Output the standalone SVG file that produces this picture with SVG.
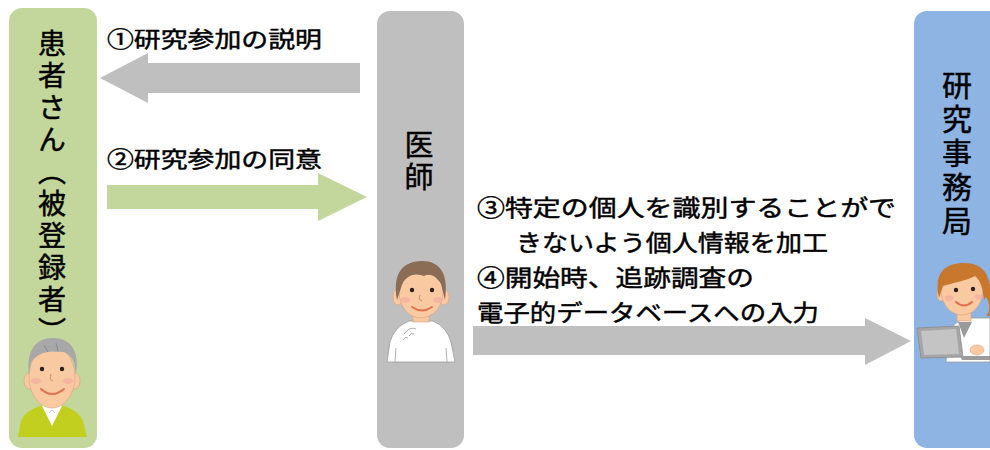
<svg xmlns="http://www.w3.org/2000/svg" width="990" height="450" viewBox="0 0 990 450">
  <defs>
    <style>
      .jp { font-family: "Noto Sans CJK JP", "Noto Sans", sans-serif; fill: #000; font-weight: 400; stroke: #000; stroke-width: 0.45px; }
      .lbl { font-size: 22px; }
      .body { font-size: 23px; }
      .vt { writing-mode: vertical-rl; }
      .skin { fill: #F9C9A2; stroke: #D9A27E; stroke-width: 0.6; }
      .eye { fill: #2A2020; }
      .cheek { fill: #F4A3A3; opacity: 0.55; }
      .mouth { fill: none; stroke: #E0704E; stroke-width: 2; stroke-linecap: round; }
    </style>
  </defs>

  <rect width="990" height="450" fill="#FFFFFF"/>

  <!-- patient column -->
  <g id="patient">
    <rect x="9" y="8" width="88" height="440" rx="13" fill="#C3D69B"/>
    <text class="jp vt" x="52" y="29" font-size="28" letter-spacing="4">患者さん（被登録者）</text>
    <!-- elderly man -->
    <g id="patient-figure">
      <path d="M18,437 L21,421 Q26,410 40,406 L64,406 Q78,410 83,421 L87,437 Z" fill="#C3CF1E"/>
      <rect x="45" y="396" width="14" height="14" class="skin"/>
      <path d="M42,406 L62,406 L52,426 Z" fill="#FFFFFF"/>
      <path d="M49,413 L52,410 L55,413" fill="none" stroke="#B0B8C8" stroke-width="0.8"/>
      <ellipse cx="29" cy="381" rx="5" ry="8" class="skin"/>
      <ellipse cx="75" cy="381" rx="5" ry="8" class="skin"/>
      <ellipse cx="52" cy="377" rx="23" ry="31" class="skin"/>
      <path d="M29,374 C26,350 36,338 53,338 C70,338 80,350 76,374 L74,362 C70,354 64,351 58,352 C48,350 38,353 31,362 Z" fill="#A8A8A8"/>
      <path d="M44,345 L48,352 M56,343 L58,351" stroke="#8A8A8A" stroke-width="1" fill="none"/>
      <circle cx="42" cy="369" r="2.2" class="eye"/>
      <circle cx="62" cy="369" r="2.2" class="eye"/>
      <ellipse cx="36" cy="381" rx="5" ry="3" class="cheek"/>
      <ellipse cx="68" cy="381" rx="5" ry="3" class="cheek"/>
      <path d="M51,374 Q49,380 53,381" fill="none" stroke="#D08C6A" stroke-width="1"/>
      <path d="M41,389 Q52,399 64,389" class="mouth"/>
    </g>
  </g>

  <!-- doctor column -->
  <g id="doctor">
    <rect x="377" y="11" width="87" height="437" rx="13" fill="#BFBFBF"/>
    <text class="jp vt" x="419" y="130" font-size="29" letter-spacing="3">医師</text>
    <g id="doctor-figure">
      <path d="M387,362 L390,342 Q394,327 409,321 L433,321 Q447,327 451,342 L455,362 Z" fill="#FFFFFF" stroke="#9A9A9A" stroke-width="0.8"/>
      <path d="M395,362 L396,348 M447,362 L446,348" stroke="#9A9A9A" stroke-width="0.8"/>
      <path d="M404,334 Q410,326 416,329" fill="none" stroke="#9A9A9A" stroke-width="0.8"/>
      <path d="M403,340 Q405,336 408,338 M409,336 Q411,332 414,334" fill="none" stroke="#9A9A9A" stroke-width="0.8"/>
      <rect x="413" y="309" width="16" height="13" class="skin"/>
      <ellipse cx="398" cy="297" rx="5" ry="8" class="skin"/>
      <ellipse cx="444" cy="297" rx="5" ry="8" class="skin"/>
      <ellipse cx="421" cy="292" rx="22" ry="26" class="skin"/>
      <path d="M397,300 C392,272 404,261 422,261 C440,261 449,274 445,300 L441,284 C436,276 430,273 424,276 C414,272 404,276 401,288 Z" fill="#8B6C55"/>
      <circle cx="412" cy="290" r="2.2" class="eye"/>
      <circle cx="432" cy="290" r="2.2" class="eye"/>
      <ellipse cx="405" cy="300" rx="5" ry="3" class="cheek"/>
      <ellipse cx="438" cy="300" rx="5" ry="3" class="cheek"/>
      <path d="M420,295 Q418,300 422,301" fill="none" stroke="#D08C6A" stroke-width="1"/>
      <path d="M412,307 Q422,314 432,307" class="mouth"/>
    </g>
  </g>

  <!-- research office column -->
  <g id="office">
    <rect x="914" y="11" width="90" height="437" rx="13" fill="#8EB4E3"/>
    <text class="jp vt" x="957" y="70" font-size="30" letter-spacing="4">研究事務局</text>
    <g id="office-figure">
      <path d="M946,362 L948,336 Q952,322 966,318 L990,318 L990,362 Z" fill="#FFFFFF" stroke="#9A9A9A" stroke-width="0.8"/>
      <path d="M958,322 L964,338 L972,322 Z" fill="#9A9A9A"/>
      <path d="M978,290 C990,296 992,310 986,316 L990,316 L990,284 Z" fill="#C8782C"/>
      <rect x="957" y="308" width="14" height="13" class="skin"/>
      <ellipse cx="941" cy="294" rx="4" ry="7" class="skin"/>
      <ellipse cx="962" cy="290" rx="21" ry="25" class="skin"/>
      <path d="M939,298 C933,272 946,263 964,263 C982,263 990,274 990,290 L984,300 C983,288 980,280 975,276 C966,281 952,283 943,286 Z" fill="#C8782C"/>
      <circle cx="956" cy="290" r="2.2" class="eye"/>
      <circle cx="973" cy="289" r="2.2" class="eye"/>
      <ellipse cx="949" cy="298" rx="4.5" ry="2.8" class="cheek"/>
      <ellipse cx="979" cy="297" rx="4.5" ry="2.8" class="cheek"/>
      <path d="M956,302 Q964,309 972,302" class="mouth"/>
      <path d="M917,328 L959,326 L963,357 L921,358 Z" fill="#A6A6A6" stroke="#8A8A8A" stroke-width="0.8"/>
      <path d="M921,331 L956,329 L959,354 L924,355 Z" fill="#C4C4C4"/>
      <path d="M960,356 L990,356 L990,360 L962,360 Z" fill="#9C9C9C"/>
      <ellipse cx="977" cy="350" rx="7" ry="5" class="skin"/>
    </g>
  </g>

  <!-- flow arrows -->
  <g id="connectors">
    <path d="M360,63 L148,63 L148,53 L100,78 L148,103 L148,93 L360,93 Z" fill="#BFBFBF"/>
    <path d="M107,185 L318,185 L318,173 L367,197 L318,221 L318,209 L107,209 Z" fill="#C3D69B"/>
    <path d="M473,326 L865,326 L865,318 L911,341 L865,365 L865,355 L473,355 Z" fill="#BFBFBF"/>
  </g>

  <!-- step labels -->
  <g id="labels">
    <text class="jp lbl" x="107" y="47" textLength="215" lengthAdjust="spacingAndGlyphs">①研究参加の説明</text>
    <text class="jp lbl" x="107" y="167" textLength="215" lengthAdjust="spacingAndGlyphs">②研究参加の同意</text>
    <text class="jp body" x="477" y="216" textLength="419" lengthAdjust="spacingAndGlyphs">③特定の個人を識別することがで</text>
    <text class="jp body" x="516" y="251" textLength="312" lengthAdjust="spacingAndGlyphs">きないよう個人情報を加工</text>
    <text class="jp body" x="477" y="286" textLength="277" lengthAdjust="spacingAndGlyphs">④開始時、追跡調査の</text>
    <text class="jp body" x="477" y="321" textLength="342" lengthAdjust="spacingAndGlyphs">電子的データベースへの入力</text>
  </g>
</svg>
